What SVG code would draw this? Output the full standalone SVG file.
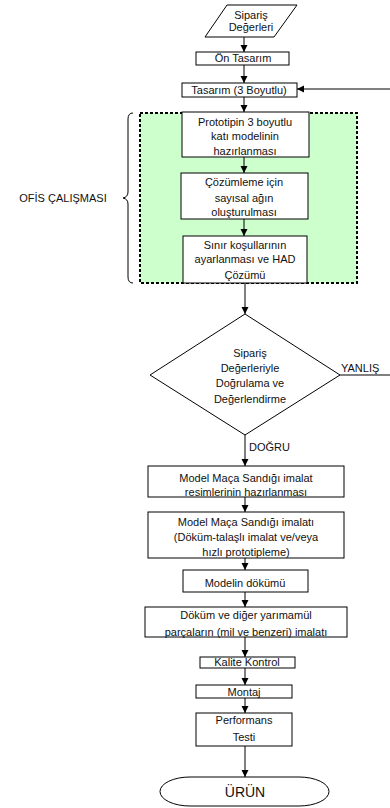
<svg xmlns="http://www.w3.org/2000/svg" width="390" height="808" viewBox="0 0 390 808">
  <style>
    text { font-family: "Liberation Sans", Arial, sans-serif; font-size: 11px; fill: #111; text-anchor: middle; }
    .box { fill: #fff; stroke: #000; stroke-width: 1; }
    .ln { fill: none; stroke: #000; stroke-width: 1; }
    .big { font-size: 14px; }
    .lbl { text-anchor: start; }
  </style>
  <defs>
    <marker id="arr" markerWidth="8" markerHeight="8" refX="7" refY="4" orient="auto" markerUnits="userSpaceOnUse">
      <path d="M0,0.5 L7,4 L0,7.5 Z" fill="#000"/>
    </marker>
  </defs>

  <!-- office-work zone -->
  <g id="ofis">
    <rect x="140" y="113" width="217" height="170" fill="#ccffcc" stroke="#000" stroke-width="2" stroke-dasharray="3,2"/>
    <path class="ln" d="M133,113 Q128,113 128,119 L128,192 Q128,197 123,198 Q128,199 128,204 L128,277 Q128,283 133,283"/>
    <text x="63" y="202">OFİS ÇALIŞMASI</text>
  </g>

  <!-- connectors -->
  <g id="connectors">
    <line class="ln" x1="244" y1="37" x2="244" y2="52" marker-end="url(#arr)"/>
    <line class="ln" x1="244" y1="65" x2="244" y2="83" marker-end="url(#arr)"/>
    <line class="ln" x1="390" y1="89" x2="297" y2="89" marker-end="url(#arr)"/>
    <line class="ln" x1="244" y1="97" x2="244" y2="112" marker-end="url(#arr)"/>
    <line class="ln" x1="244" y1="157" x2="244" y2="173" marker-end="url(#arr)"/>
    <line class="ln" x1="244" y1="219" x2="244" y2="236" marker-end="url(#arr)"/>
    <line class="ln" x1="245" y1="283" x2="245" y2="314" marker-end="url(#arr)"/>
    <line class="ln" x1="340" y1="375" x2="390" y2="375"/>
    <text class="lbl" x="341" y="372">YANLIŞ</text>
    <line class="ln" x1="245" y1="435" x2="245" y2="466" marker-end="url(#arr)"/>
    <text class="lbl" x="249" y="451">DOĞRU</text>
    <line class="ln" x1="245" y1="497" x2="245" y2="512" marker-end="url(#arr)"/>
    <line class="ln" x1="245" y1="558" x2="245" y2="570" marker-end="url(#arr)"/>
    <line class="ln" x1="245" y1="592" x2="245" y2="607" marker-end="url(#arr)"/>
    <line class="ln" x1="245" y1="637" x2="245" y2="657" marker-end="url(#arr)"/>
    <line class="ln" x1="245" y1="668" x2="245" y2="685" marker-end="url(#arr)"/>
    <line class="ln" x1="245" y1="698" x2="245" y2="713" marker-end="url(#arr)"/>
    <line class="ln" x1="245" y1="746" x2="245" y2="777" marker-end="url(#arr)"/>
  </g>

  <g id="siparis">
    <polygon class="box" points="227,5 297,5 274,37 205,37"/>
    <text x="251" y="19">Sipariş</text>
    <text x="251" y="31">Değerleri</text>
  </g>

  <g id="on-tasarim">
    <rect class="box" x="196" y="52" width="93" height="13"/>
    <text x="243" y="62">Ön Tasarım</text>
  </g>

  <g id="tasarim">
    <rect class="box" x="182" y="83" width="115" height="14"/>
    <text x="239" y="94">Tasarım (3 Boyutlu)</text>
  </g>

  <g id="prototip">
    <rect class="box" x="182" y="112" width="127" height="45"/>
    <text x="245" y="126">Prototipin 3 boyutlu</text>
    <text x="245" y="140">katı modelinin</text>
    <text x="245" y="155">hazırlanması</text>
  </g>

  <g id="ag">
    <rect class="box" x="181" y="173" width="127" height="46"/>
    <text x="244" y="186">Çözümleme için</text>
    <text x="244" y="202">sayısal ağın</text>
    <text x="244" y="216">oluşturulması</text>
  </g>

  <g id="had">
    <rect class="box" x="183" y="236" width="124" height="47"/>
    <text x="245" y="249">Sınır koşullarının</text>
    <text x="245" y="263">ayarlanması ve HAD</text>
    <text x="245" y="279">Çözümü</text>
  </g>

  <g id="dogrulama">
    <polygon class="box" points="245,314 340,375 245,435 150,375"/>
    <text x="250" y="357">Sipariş</text>
    <text x="250" y="372">Değerleriyle</text>
    <text x="250" y="387">Doğrulama ve</text>
    <text x="250" y="403">Değerlendirme</text>
  </g>

  <g id="resim">
    <rect class="box" x="148" y="466" width="196" height="31"/>
    <text x="246" y="482">Model Maça Sandığı imalat</text>
    <text x="246" y="496">resimlerinin hazırlanması</text>
  </g>

  <g id="imalat">
    <rect class="box" x="148" y="512" width="196" height="46"/>
    <text x="246" y="526">Model Maça Sandığı imalatı</text>
    <text x="246" y="541">(Döküm-talaşlı imalat ve/veya</text>
    <text x="246" y="556">hızlı prototipleme)</text>
  </g>

  <g id="dokum">
    <rect class="box" x="183" y="570" width="125" height="22"/>
    <text x="245" y="587">Modelin dökümü</text>
  </g>

  <g id="yarimamul">
    <rect class="box" x="145" y="607" width="202" height="30"/>
    <text x="246" y="619">Döküm ve diğer yarımamül</text>
    <text x="246" y="636">parçaların (mil ve benzeri) imalatı</text>
  </g>

  <g id="kalite">
    <rect class="box" x="200" y="657" width="95" height="11"/>
    <text x="247" y="666">Kalite Kontrol</text>
  </g>

  <g id="montaj">
    <rect class="box" x="196" y="685" width="96" height="13"/>
    <text x="244" y="696">Montaj</text>
  </g>

  <g id="performans">
    <rect class="box" x="196" y="713" width="96" height="33"/>
    <text x="244" y="724">Performans</text>
    <text x="244" y="741">Testi</text>
  </g>

  <g id="urun">
    <rect class="box" x="160" y="777" width="169" height="29" rx="30" ry="14.5"/>
    <text class="big" x="245" y="797">ÜRÜN</text>
  </g>
</svg>
